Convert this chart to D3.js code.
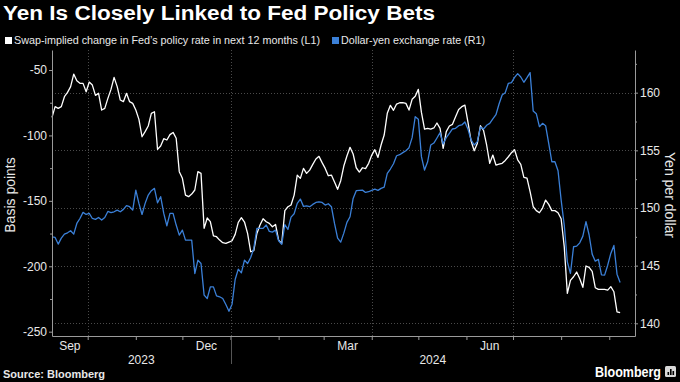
<!DOCTYPE html>
<html><head><meta charset="utf-8">
<script src="https://cdn.jsdelivr.net/npm/d3@7"></script>
<style>
html,body{margin:0;padding:0;background:#000;}
svg{display:block;}
text{font-family:"Liberation Sans","Arial",sans-serif;}
</style></head><body>
<svg id="chart" width="680" height="382"></svg>
<script>
const titleText = "Yen Is Closely Linked to Fed Policy Bets";
const seriesNames = ["Swap-implied change in Fed\u2019s policy rate in next 12 months (L1)", "Dollar-yen exchange rate (R1)"];
const leftAxisTitle = "Basis points";
const rightAxisTitle = "Yen per dollar";
const sourceText = "Source: Bloomberg";
const leftTicks = [-250, -200, -150, -100, -50];
const leftMinorTicks = [-225, -175, -125, -75];
const rightTicks = [140, 145, 150, 155, 160];
const rightMinorTicks = [142.5, 147.5, 152.5, 157.5, 162.5];
const monthLabels = ["Sep", "Dec", "Mar", "Jun"];
const monthLabelStarts = ["2023-09-01", "2023-12-01", "2024-03-01", "2024-06-01"];
const yearLabels = ["2023", "2024"];

const dates = [
"2023-09-08","2023-09-10","2023-09-12","2023-09-14","2023-09-16","2023-09-18","2023-09-20","2023-09-22","2023-09-24","2023-09-26","2023-09-28","2023-09-30",
"2023-10-02","2023-10-04","2023-10-06","2023-10-08","2023-10-10","2023-10-12","2023-10-14","2023-10-16","2023-10-18","2023-10-20","2023-10-22","2023-10-24","2023-10-26","2023-10-28","2023-10-30",
"2023-11-01","2023-11-03","2023-11-05","2023-11-07","2023-11-09","2023-11-11","2023-11-13","2023-11-15","2023-11-17","2023-11-19","2023-11-21","2023-11-23","2023-11-25","2023-11-27","2023-11-29",
"2023-12-01","2023-12-03","2023-12-05","2023-12-07","2023-12-09","2023-12-11","2023-12-13","2023-12-15","2023-12-17","2023-12-19","2023-12-21","2023-12-23","2023-12-25","2023-12-27","2023-12-29","2023-12-31",
"2024-01-02","2024-01-04","2024-01-06","2024-01-08","2024-01-10","2024-01-12","2024-01-14","2024-01-16","2024-01-18","2024-01-20","2024-01-22","2024-01-24","2024-01-26","2024-01-28","2024-01-30",
"2024-02-01","2024-02-03","2024-02-05","2024-02-07","2024-02-09","2024-02-11","2024-02-13","2024-02-15","2024-02-17","2024-02-19","2024-02-21","2024-02-23","2024-02-25","2024-02-27","2024-02-29",
"2024-03-02","2024-03-04","2024-03-06","2024-03-08","2024-03-10","2024-03-12","2024-03-14","2024-03-16","2024-03-18","2024-03-20","2024-03-22","2024-03-24","2024-03-26","2024-03-28","2024-03-30",
"2024-04-01","2024-04-03","2024-04-05","2024-04-07","2024-04-09","2024-04-11","2024-04-13","2024-04-15","2024-04-17","2024-04-19","2024-04-21","2024-04-23","2024-04-25","2024-04-27","2024-04-29",
"2024-05-01","2024-05-03","2024-05-05","2024-05-07","2024-05-09","2024-05-11","2024-05-13","2024-05-15","2024-05-17","2024-05-19","2024-05-21","2024-05-23","2024-05-25","2024-05-27","2024-05-29","2024-05-31",
"2024-06-02","2024-06-04","2024-06-06","2024-06-08","2024-06-10","2024-06-12","2024-06-14","2024-06-16","2024-06-18","2024-06-20","2024-06-22","2024-06-24","2024-06-26","2024-06-28","2024-06-30",
"2024-07-02","2024-07-04","2024-07-06","2024-07-08","2024-07-10","2024-07-12","2024-07-14","2024-07-16","2024-07-18","2024-07-20","2024-07-22","2024-07-24","2024-07-26","2024-07-28","2024-07-30",
"2024-08-01","2024-08-03","2024-08-05","2024-08-07","2024-08-09","2024-08-11","2024-08-13","2024-08-15","2024-08-17","2024-08-19","2024-08-21","2024-08-23","2024-08-25","2024-08-27","2024-08-29","2024-08-31",
"2024-09-02","2024-09-04","2024-09-06","2024-09-08"
];

const swapBp = [
-86.2,-78.0,-79.3,-78.0,-70.4,-67.1,-62.7,-53.1,-58.2,-60.2,-60.2,-66.6,-59.2,-61.5,-69.4,-67.8,-80.6,-79.3,-71.7,-64.8,-55.6,-62.7,-72.9,-74.2,-67.8,-74.2,-75.5,-80.6,-87.7,-101.0,-97.1,-92.8,-83.1,-81.9,-110.7,-108.1,-102.5,-103.5,-99.4,-97.7,-102.2,-127.7,-132.8,-145.6,-146.8,-144.8,-141.7,-127.7,
-129.0,-171.0,-163.1,-165.9,-176.7,-177.4,-180.0,-182.0,-182.5,-181.5,-180.5,-175.6,-166.5,-162.9,-166.2,-174.9,-188.9,-188.1,-174.9,-168.5,-163.7,-166.0,-167.2,-169.8,-168.0,-180.0,-182.5,-157.5,-154.5,-153.2,-145.6,-130.3,-132.8,-125.2,-129.0,-126.5,-122.1,-118.0,-116.0,-120.8,-125.2,-130.8,-130.3,-135.6,-141.2,-134.6,-123.4,
-115.7,-109.1,-114.2,-124.7,-128.0,-124.7,-125.4,-121.3,-115.0,-110.9,-116.8,-107.3,-99.7,-83.1,-77.0,-80.8,-76.0,-75.0,-75.0,-75.5,-80.6,-72.4,-70.1,-64.8,-82.4,-95.1,-94.6,-95.1,-94.3,-90.5,-94.6,-109.9,-97.1,-92.8,-91.5,-85.7,-80.1,-78.0,-76.8,-90.0,-104.3,-111.7,-106.1,-92.6,-96.1,-107.3,-121.3,
-115.0,-122.6,-121.9,-121.3,-119.1,-116.3,-113.2,-110.9,-118.6,-122.1,-132.1,-132.6,-143.0,-154.5,-157.5,-159.1,-155.5,-149.4,-152.7,-157.5,-157.5,-159.1,-163.7,-185.0,-220.7,-210.8,-208.0,-204.4,-209.5,-216.1,-199.8,-200.9,-203.9,-216.4,-217.7,-217.7,-217.7,-218.2,-215.6,-219.5,-234.8,-235.5
];

const usdJpy = [
147.50,147.45,146.87,147.39,147.73,147.85,148.03,147.73,148.66,149.09,149.62,149.44,149.53,149.09,149.01,149.18,148.95,149.18,149.70,149.59,149.67,149.82,149.67,149.88,150.20,150.11,149.82,151.55,150.40,149.44,150.40,151.12,151.50,151.70,150.45,150.98,149.53,148.46,149.53,149.53,148.52,147.65,148.08,147.21,147.21,147.21,144.32,145.48,
145.19,142.44,142.15,143.16,143.16,142.38,142.30,142.15,141.63,141.05,141.66,143.80,144.70,144.38,145.48,145.19,145.71,146.49,148.23,148.23,148.23,148.52,147.97,147.91,148.08,147.16,146.84,148.55,148.14,149.21,149.50,150.40,150.77,150.14,150.19,150.11,150.31,150.48,150.54,150.48,150.25,150.37,150.11,148.66,147.39,147.04,147.82,
148.75,149.24,150.83,151.50,151.53,151.55,151.35,151.41,151.53,151.64,151.53,151.70,151.81,153.00,153.38,153.84,154.53,154.62,154.80,154.97,155.23,156.10,157.92,157.69,154.45,153.29,154.01,155.46,155.63,156.07,156.53,155.55,156.10,156.47,156.85,156.91,157.14,157.20,157.46,156.82,155.90,155.46,155.75,157.02,156.85,157.17,157.34,
157.72,158.09,159.02,159.80,160.00,160.81,160.87,161.33,161.65,161.36,160.90,161.30,161.74,158.41,158.18,157.05,157.34,157.14,155.60,154.01,154.01,153.23,150.69,148.52,145.33,144.32,146.64,146.69,146.98,147.56,148.81,147.68,146.00,145.39,145.54,144.20,144.18,145.04,146.06,146.75,144.26,143.54
];

const parse = d3.timeParse("%Y-%m-%d");
const W = 680, H = 382;
const plot = {left: 52, right: 635, top: 50, bottom: 336};
const colWhite = "#ffffff", colBlue = "#3b80d8", gridCol = "#4a4a4a", axisCol = "#9a9a9a", txtCol = "#e8e8e8";

const svg = d3.select("#chart");
svg.append("rect").attr("width", W).attr("height", H).attr("fill", "#000");

const xStart = new Date(2023, 8, 8), xEnd = new Date(2024, 8, 17, 14);
const x = d3.scaleTime().domain([xStart, xEnd]).range([plot.left, plot.right]);
const yL = d3.scaleLinear().domain([-253.3, -34.7]).range([plot.bottom, plot.top]);
const yR = d3.scaleLinear().domain([138.9, 163.7]).range([plot.bottom, plot.top]);

// horizontal grid (right axis ticks)
svg.append("g").selectAll("line").data(rightTicks).join("line")
  .attr("x1", plot.left).attr("x2", plot.right)
  .attr("y1", d => Math.round(yR(d)) + 0.5).attr("y2", d => Math.round(yR(d)) + 0.5)
  .attr("stroke", gridCol).attr("stroke-dasharray", "1,2");

// vertical grid at quarter starts
const quarterStarts = d3.timeMonth.every(3).range(xStart, xEnd);
svg.append("g").selectAll("line").data(quarterStarts).join("line")
  .attr("x1", d => Math.round(x(d)) + 0.5).attr("x2", d => Math.round(x(d)) + 0.5)
  .attr("y1", plot.top).attr("y2", plot.bottom)
  .attr("stroke", gridCol).attr("stroke-dasharray", "1,2");

// lines
const rows = dates.map((d, i) => ({date: parse(d), bp: swapBp[i], yen: usdJpy[i]}));
svg.append("path").datum(rows)
  .attr("fill", "none").attr("stroke", colWhite).attr("stroke-width", 1.3).attr("stroke-linejoin", "round")
  .attr("d", d3.line().x(d => x(d.date)).y(d => yL(d.bp)));
svg.append("path").datum(rows)
  .attr("fill", "none").attr("stroke", colBlue).attr("stroke-width", 1.3).attr("stroke-linejoin", "round")
  .attr("d", d3.line().x(d => x(d.date)).y(d => yR(d.yen)));

function styleAxis(g) {
  g.select(".domain").attr("stroke", axisCol);
  g.selectAll(".tick line").attr("stroke", axisCol);
  g.selectAll(".tick text").attr("fill", txtCol).attr("font-size", 12).attr("font-family", "Liberation Sans, Arial, sans-serif");
}

// left axis
const gL = svg.append("g").attr("transform", `translate(${plot.left},0)`)
  .call(d3.axisLeft(yL).tickValues(leftTicks).tickSize(3).tickSizeOuter(0).tickPadding(2).tickFormat(d => String(d)));
styleAxis(gL);
svg.append("g").attr("transform", `translate(${plot.left},0)`)
  .call(d3.axisLeft(yL).tickValues(leftMinorTicks).tickSize(2).tickSizeOuter(0).tickFormat(""))
  .call(g => { g.select(".domain").remove(); g.selectAll("line").attr("stroke", axisCol); });

// right axis
const gR = svg.append("g").attr("transform", `translate(${plot.right},0)`)
  .call(d3.axisRight(yR).tickValues(rightTicks).tickSize(3).tickSizeOuter(0).tickPadding(2));
styleAxis(gR);
svg.append("g").attr("transform", `translate(${plot.right},0)`)
  .call(d3.axisRight(yR).tickValues(rightMinorTicks).tickSize(2).tickSizeOuter(0).tickFormat(""))
  .call(g => { g.select(".domain").remove(); g.selectAll("line").attr("stroke", axisCol); });

// bottom axis
const gB = svg.append("g").attr("transform", `translate(0,${plot.bottom})`)
  .call(d3.axisBottom(x).ticks(d3.timeMonth.every(1)).tickSize(4).tickSizeOuter(0).tickFormat(""));
styleAxis(gB);

// month labels centered on visible part of the month
monthLabels.forEach((lab, i) => {
  const ms = parse(monthLabelStarts[i]);
  const me = d3.timeMonth.offset(ms, 1);
  const a = x(ms < xStart ? xStart : ms), b = x(me > xEnd ? xEnd : me);
  svg.append("text").attr("x", (a + b) / 2).attr("y", 350).attr("text-anchor", "middle")
    .attr("fill", txtCol).attr("font-size", 12).text(lab);
});
// year labels
yearLabels.forEach(yr => {
  const ys = new Date(+yr, 0, 1), ye = new Date(+yr + 1, 0, 1);
  const a = x(ys < xStart ? xStart : ys), b = x(ye > xEnd ? xEnd : ye);
  svg.append("text").attr("x", (a + b) / 2).attr("y", 364).attr("text-anchor", "middle")
    .attr("fill", txtCol).attr("font-size", 12).text(yr);
});
// year divider
const yearDiv = d3.timeYear.range(xStart, xEnd);
svg.append("g").selectAll("line").data(yearDiv).join("line")
  .attr("x1", d => Math.round(x(d)) + 0.5).attr("x2", d => Math.round(x(d)) + 0.5)
  .attr("y1", plot.bottom + 1).attr("y2", 364).attr("stroke", "#555");

// axis titles
svg.append("text").attr("transform", `translate(15,${(plot.top + plot.bottom) / 2 + 2}) rotate(-90)`)
  .attr("text-anchor", "middle").attr("fill", txtCol).attr("font-size", 14).text(leftAxisTitle);
svg.append("text").attr("transform", `translate(665,${(plot.top + plot.bottom) / 2 + 2}) rotate(90)`)
  .attr("text-anchor", "middle").attr("fill", txtCol).attr("font-size", 14).text(rightAxisTitle);

// title
svg.append("text").attr("x", 3).attr("y", 20).attr("fill", "#fff").attr("font-size", 20).attr("font-weight", "bold")
  .attr("textLength", 432).attr("lengthAdjust", "spacingAndGlyphs").text(titleText);

// legend
const legendItems = [
  {name: seriesNames[0], color: colWhite, sx: 5, tx: 14, w: 306},
  {name: seriesNames[1], color: colBlue, sx: 332, tx: 341, w: 144}
];
legendItems.forEach(it => {
  svg.append("rect").attr("x", it.sx).attr("y", 37).attr("width", 7).attr("height", 7).attr("fill", it.color);
  svg.append("text").attr("x", it.tx).attr("y", 44).attr("fill", txtCol).attr("font-size", 11.5)
    .attr("textLength", it.w).attr("lengthAdjust", "spacingAndGlyphs").text(it.name);
});

// source
svg.append("text").attr("x", 3).attr("y", 378).attr("fill", txtCol).attr("font-size", 11).attr("font-weight", "bold").text(sourceText);

// Bloomberg logo
svg.append("text").attr("x", 661).attr("y", 377).attr("text-anchor", "end").attr("fill", "#fff")
  .attr("font-size", 14).attr("font-weight", "bold").attr("textLength", 66).attr("lengthAdjust", "spacingAndGlyphs").text("Bloomberg");
svg.append("rect").attr("x", 665).attr("y", 366).attr("width", 11).attr("height", 11).attr("rx", 1.5).attr("fill", "#d8d8d8");
[[667.5, 3], [670, 6], [672.5, 4]].forEach(([bx, bh]) => {
  svg.append("rect").attr("x", bx).attr("y", 375 - bh).attr("width", 1.6).attr("height", bh).attr("fill", "#000");
});
</script>
</body></html>
